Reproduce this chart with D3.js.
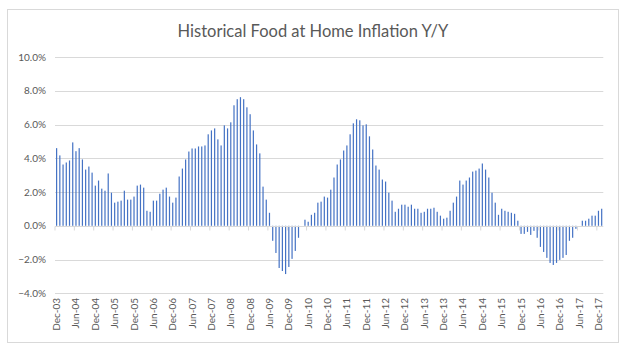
<!DOCTYPE html>
<html>
<head>
<meta charset="utf-8">
<script src="https://cdn.jsdelivr.net/npm/d3@7"></script>
<style>
  body { margin: 0; background: #fff; }
  text { font-family: Lato, "Open Sans", sans-serif; fill: #595959; }
</style>
</head>
<body>
<svg id="chart" width="626" height="352"></svg>
<script>
// Y/Y food at home inflation, %, monthly from Dec-03 to Jan-18
const startMonth = new Date(2003, 11, 1)
const yoy = [
  4.6,
  4.17, 3.63, 3.75, 3.87, 4.94, 4.42, 4.6, 3.93, 3.33, 3.51, 3.15, 2.38,
  2.68, 2.2, 2.08, 3.1, 1.96, 1.37, 1.43, 1.49, 2.08, 1.55, 1.55, 1.73,
  2.38, 2.44, 2.26, 0.89, 0.83, 1.49, 1.49, 1.9, 2.14, 2.26, 1.73, 1.37,
  1.67, 2.92, 3.39, 3.93, 4.4, 4.58, 4.58, 4.7, 4.7, 4.76, 5.42, 5.65,
  5.77, 5.12, 4.76, 5.95, 5.77, 6.13, 7.14, 7.5, 7.62, 7.5, 7.02, 6.61,
  5.65, 4.82, 4.29, 2.32, 1.55, 0.77, -0.89, -1.61, -2.5, -2.68, -2.86, -2.44,
  -1.96, -1.49, -0.71, 0.0, 0.36, 0.24, 0.65, 0.77, 1.37, 1.43, 1.73, 1.67,
  2.14, 2.86, 3.63, 3.93, 4.46, 4.76, 5.42, 6.07, 6.31, 6.25, 5.95, 6.01,
  5.3, 4.52, 3.57, 3.33, 2.74, 2.62, 1.96, 1.49, 0.83, 1.01, 1.25, 1.25,
  1.13, 1.25, 1.01, 1.01, 0.77, 0.83, 1.01, 1.01, 1.07, 0.83, 0.6, 0.42,
  0.48, 0.89, 1.37, 1.73, 2.68, 2.44, 2.68, 2.86, 3.21, 3.27, 3.39, 3.69,
  3.33, 2.86, 1.96, 1.37, 0.65, 1.01, 0.89, 0.83, 0.77, 0.71, 0.3, -0.48,
  -0.48, -0.36, -0.54, -0.3, -0.71, -1.25, -1.55, -1.9, -2.2, -2.32, -2.2, -2.02,
  -1.9, -1.73, -0.89, -0.71, -0.18, 0.0, 0.3, 0.3, 0.42, 0.6, 0.6, 0.89,
  1.01
]
const yTicks = [-4, -2, 0, 2, 4, 6, 8, 10]
const labelEvery = 6

const months = yoy.map((v, i) => d3.timeMonth.offset(startMonth, i))
const fmtMonth = d3.timeFormat("%b-%y")

const svg = d3.select("#chart")

// frame
svg.append("rect")
  .attr("x", 7.5).attr("y", 9.5)
  .attr("width", 611).attr("height", 333)
  .attr("fill", "#fff")
  .attr("stroke", "#d9d9d9")

svg.append("text")
  .attr("x", 313).attr("y", 37)
  .attr("text-anchor", "middle")
  .attr("font-size", "16.5px")
  .text("Historical Food at Home Inflation Y/Y")

const x = d3.scaleBand()
  .domain(d3.range(yoy.length))
  .range([55, 603.3])

const y = d3.scaleLinear()
  .domain([-4, 10])
  .range([293.3, 57])

// grid
svg.append("g")
  .selectAll("line")
  .data(yTicks.filter(d => d !== 0))
  .join("line")
  .attr("x1", 55).attr("x2", 603.3)
  .attr("y1", d => Math.round(y(d)) + 0.5)
  .attr("y2", d => Math.round(y(d)) + 0.5)
  .attr("stroke", "#d9d9d9")

// y labels
svg.append("g")
  .selectAll("text")
  .data(yTicks)
  .join("text")
  .attr("x", 46)
  .attr("y", d => y(d))
  .attr("dy", "0.35em")
  .attr("text-anchor", "end")
  .attr("font-size", "10px")
  .text(d => d3.format(".1f")(d) + "%")

// bars
const bw = 1.2
svg.append("g")
  .attr("fill", "#4472c4")
  .selectAll("rect")
  .data(yoy)
  .join("rect")
  .attr("x", (d, i) => x(i) + x.bandwidth() / 2 - bw / 2)
  .attr("width", bw)
  .attr("y", d => y(Math.max(0, d)))
  .attr("height", d => Math.abs(y(d) - y(0)))

// zero axis + ticks
const y0 = Math.round(y(0)) + 0.5
svg.append("line")
  .attr("x1", 55).attr("x2", 603.3)
  .attr("y1", y0).attr("y2", y0)
  .attr("stroke", "#d9d9d9")

const tickIdx = d3.range(0, yoy.length, labelEvery)
svg.append("g")
  .selectAll("line")
  .data(tickIdx)
  .join("line")
  .attr("x1", i => x(i)).attr("x2", i => x(i))
  .attr("y1", y0).attr("y2", y0 + 4)
  .attr("stroke", "#d9d9d9")

// x labels
svg.append("g")
  .selectAll("text")
  .data(tickIdx)
  .join("text")
  .attr("transform", i => `translate(${x(i) + x.bandwidth() / 2},298) rotate(-90)`)
  .attr("dy", "0.35em")
  .attr("text-anchor", "end")
  .attr("font-size", "10px")
  .text(i => fmtMonth(months[i]))
</script>
</body>
</html>
